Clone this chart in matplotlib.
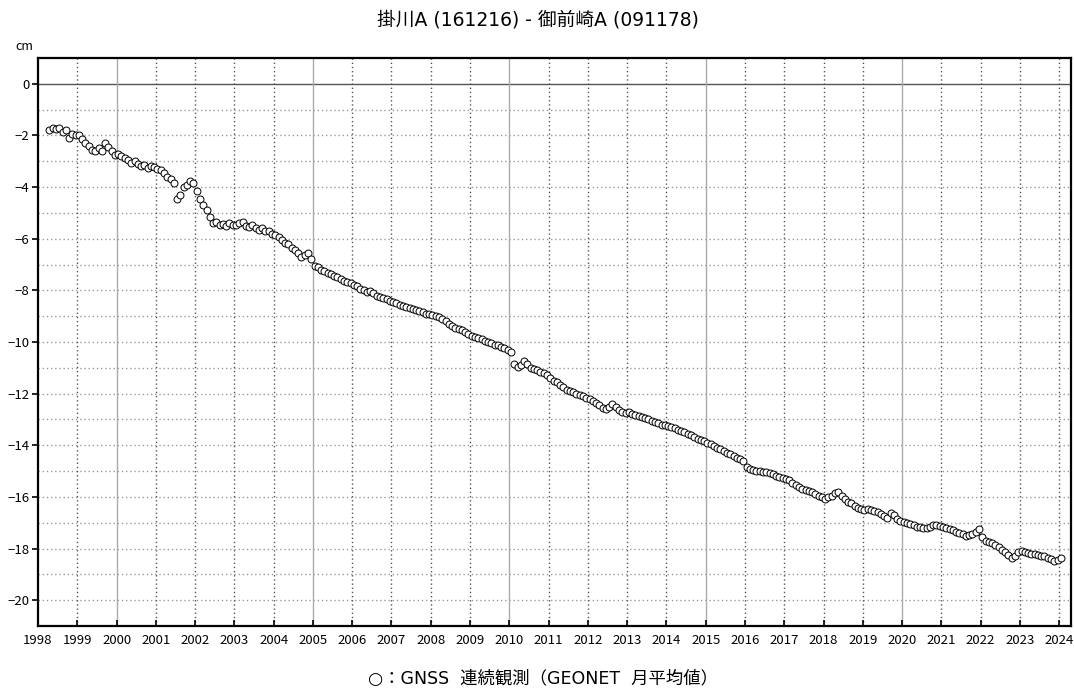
import matplotlib
matplotlib.use("Agg")
import matplotlib.pyplot as plt
import numpy as np

plt.rcParams['font.family'] = ['Noto Sans CJK JP', 'DejaVu Sans']

title = "掛川A (161216) - 御前崎A (091178)"
legend_text = "○：GNSS  連続観測（GEONET  月平均値）"
unit = "cm"

start_year, start_month = 1998, 4
values_by_year = {
    1998: [-1.78, -1.72, -1.75, -1.70, -1.85, -1.80, -2.10, -1.95, -2.00],
    1999: [-1.98, -2.15, -2.30, -2.40, -2.55, -2.62, -2.50, -2.60, -2.28, -2.45, -2.62, -2.75],
    2000: [-2.72, -2.80, -2.88, -2.95, -3.05, -3.00, -3.12, -3.20, -3.15, -3.25, -3.18, -3.22],
    2001: [-3.28, -3.32, -3.45, -3.62, -3.70, -3.85, -4.45, -4.30, -4.00, -3.90, -3.78, -3.85],
    2002: [-4.15, -4.45, -4.70, -4.90, -5.15, -5.40, -5.35, -5.45, -5.42, -5.50, -5.38, -5.48],
    2003: [-5.45, -5.40, -5.35, -5.50, -5.55, -5.48, -5.60, -5.65, -5.58, -5.72, -5.70, -5.80],
    2004: [-5.85, -5.95, -6.05, -6.15, -6.20, -6.35, -6.45, -6.55, -6.70, -6.62, -6.55, -6.80],
    2005: [-7.05, -7.10, -7.20, -7.25, -7.32, -7.38, -7.45, -7.50, -7.55, -7.62, -7.68, -7.72],
    2006: [-7.80, -7.85, -7.95, -8.00, -8.05, -8.02, -8.12, -8.20, -8.25, -8.28, -8.35, -8.40],
    2007: [-8.45, -8.50, -8.55, -8.60, -8.65, -8.70, -8.72, -8.75, -8.78, -8.85, -8.90, -8.92],
    2008: [-8.95, -8.98, -9.05, -9.12, -9.20, -9.30, -9.38, -9.45, -9.50, -9.55, -9.62, -9.70],
    2009: [-9.75, -9.82, -9.85, -9.90, -9.95, -10.00, -10.05, -10.10, -10.12, -10.18, -10.25, -10.30],
    2010: [-10.38, -10.85, -10.95, -10.90, -10.75, -10.85, -11.00, -11.05, -11.10, -11.15, -11.20, -11.28],
    2011: [-11.40, -11.50, -11.55, -11.65, -11.75, -11.85, -11.90, -11.95, -12.00, -12.05, -12.10, -12.15],
    2012: [-12.20, -12.28, -12.35, -12.45, -12.55, -12.60, -12.50, -12.40, -12.50, -12.65, -12.72, -12.75],
    2013: [-12.70, -12.78, -12.82, -12.85, -12.90, -12.95, -13.00, -13.05, -13.10, -13.15, -13.20, -13.22],
    2014: [-13.25, -13.30, -13.35, -13.40, -13.45, -13.50, -13.55, -13.62, -13.68, -13.75, -13.80, -13.85],
    2015: [-13.90, -13.95, -14.02, -14.10, -14.15, -14.22, -14.28, -14.35, -14.42, -14.50, -14.55, -14.62],
    2016: [-14.85, -14.92, -14.95, -14.98, -15.00, -15.05, -15.02, -15.08, -15.12, -15.18, -15.22, -15.28],
    2017: [-15.30, -15.35, -15.45, -15.55, -15.62, -15.68, -15.72, -15.78, -15.82, -15.88, -15.95, -16.02],
    2018: [-16.08, -16.02, -15.95, -15.85, -15.80, -15.95, -16.10, -16.20, -16.25, -16.35, -16.42, -16.48],
    2019: [-16.50, -16.48, -16.52, -16.55, -16.60, -16.65, -16.75, -16.80, -16.62, -16.70, -16.85, -16.92],
    2020: [-16.98, -17.02, -17.05, -17.10, -17.15, -17.18, -17.20, -17.22, -17.15, -17.10, -17.08, -17.12],
    2021: [-17.18, -17.22, -17.25, -17.28, -17.35, -17.40, -17.45, -17.50, -17.48, -17.42, -17.35, -17.25],
    2022: [-17.55, -17.70, -17.75, -17.80, -17.85, -17.95, -18.05, -18.15, -18.25, -18.35, -18.30, -18.15],
    2023: [-18.10, -18.15, -18.18, -18.20, -18.22, -18.25, -18.28, -18.30, -18.35, -18.40, -18.48, -18.45],
    2024: [-18.35],
}

years = list(range(1998, 2025))
yticks = list(range(0, -21, -2))

t, v = [], []
for yr, vals in values_by_year.items():
    m0 = start_month if yr == start_year else 1
    for i, val in enumerate(vals):
        t.append(yr + (m0 + i - 0.5) / 12.0)
        v.append(val)

fig = plt.figure(figsize=(10.74, 6.92), dpi=100)
ax = fig.add_axes([38 / 1074, 1 - 626 / 692, (1071 - 38) / 1074, (626 - 58) / 692])

ax.set_xlim(1998, 2024.3)
ax.set_ylim(-21, 1)

# grid lines
for yv in range(-20, 1):
    if yv == 0:
        ax.axhline(yv, color='#555555', lw=1.0, zorder=1)
    else:
        ax.axhline(yv, color='#9a9a9a', lw=1.0, ls=(0, (1, 2)), zorder=1)
for yr in years[1:]:
    if yr % 5 == 0:
        ax.axvline(yr, color='#aaaaaa', lw=1.0, zorder=1)
    else:
        ax.axvline(yr, color='#555555', lw=1.0, ls=(0, (1, 2)), zorder=1)

ax.plot(t, v, ls='none', marker='o', markersize=5.0, markerfacecolor='white',
        markeredgecolor='black', markeredgewidth=0.7, zorder=3)

ax.set_xticks(years)
ax.set_xticklabels([str(y) for y in years], fontsize=9.5)
ax.set_yticks(yticks)
ax.set_yticklabels([str(y) if y == 0 else "\u2212" + str(-y) for y in yticks], fontsize=9.5)
ax.tick_params(axis='x', direction='in', length=4, width=1.2, pad=6)
ax.tick_params(axis='y', direction='out', length=4, width=1.2, pad=2)
for sp in ax.spines.values():
    sp.set_linewidth(1.6)
    sp.set_color('black')

fig.text(538 / 1074, 1 - 20 / 692, title, ha='center', va='center', fontsize=13.5,
         family=['DejaVu Sans', 'Noto Sans CJK JP'])
fig.text(24 / 1074, 1 - 47 / 692, unit, ha='center', va='center', fontsize=9)
fig.text(543 / 1074, 1 - 679 / 692, legend_text, ha='center', va='center', fontsize=12.5,
         family=['DejaVu Sans', 'Noto Sans CJK JP'])

fig.savefig("out.png", dpi=100)
